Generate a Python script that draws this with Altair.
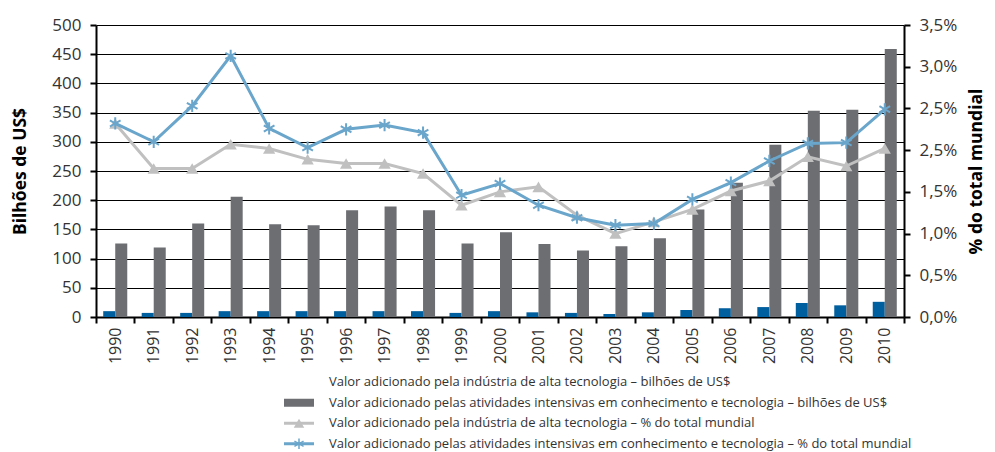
import altair as alt
import pandas as pd

years = [str(y) for y in range(1990, 2011)]
hightech_bil = [10, 7, 7, 10, 10, 10, 10, 10, 10, 7, 10, 8, 7, 5, 8, 12, 15, 17, 24, 20, 26]
knowledge_bil = [126, 119, 160, 206, 159, 157, 183, 189, 183, 126, 145, 125, 114, 121, 135, 184, 230, 295, 353, 355, 459]
hightech_pct = [2.32, 1.78, 1.78, 2.07, 2.02, 1.89, 1.84, 1.84, 1.72, 1.34, 1.50, 1.56, 1.22, 1.00, 1.14, 1.29, 1.51, 1.63, 1.92, 1.81, 2.02]
knowledge_pct = [2.32, 2.10, 2.53, 3.13, 2.26, 2.03, 2.25, 2.30, 2.21, 1.46, 1.60, 1.34, 1.19, 1.10, 1.12, 1.41, 1.61, 1.87, 2.08, 2.09, 2.49]

right_tick_values = [0, 0.5, 1.0, 1.5, 2.0, 2.5, 3.0, 3.5]
right_tick_labels = ["0,0%", "0,5%", "1,0%", "1,5%", "2,5%", "2,5%", "3,0%", "3,5%"]

legend_labels = [
    "Valor adicionado pela indústria de alta tecnologia – bilhões de US$",
    "Valor adicionado pelas atividades intensivas em conhecimento e tecnologia – bilhões de US$",
    "Valor adicionado pela indústria de alta tecnologia – % do total mundial",
    "Valor adicionado pelas atividades intensivas em conhecimento e tecnologia – % do total mundial",
]

C_BLUE_BAR = "#005f9e"
C_GRAY_BAR = "#6d6e72"
C_GRAY_LINE = "#c0c0c0"
C_BLUE_LINE = "#6aa5cb"
FONT = "Open Sans"
TXT = "#333333"
ASTERISK = "M0,-1L0,1M-0.87,-0.5L0.87,0.5M-0.87,0.5L0.87,-0.5"

W, H = 808, 292

bars = pd.DataFrame({
    "year": years * 2,
    "serie": ["a"] * len(years) + ["b"] * len(years),
    "value": hightech_bil + knowledge_bil,
})
lines = pd.DataFrame({"year": years, "ht": hightech_pct, "kn": knowledge_pct})

xscale = alt.Scale(paddingInner=0, paddingOuter=0)
xaxis = alt.Axis(title=None, labelAngle=-90, labelFont=FONT, labelFontSize=16,
                 labelColor=TXT, tickBand="extent", tickColor="black", tickWidth=2,
                 tickSize=6, domainColor="black", domainWidth=2, labelPadding=4,
                 grid=False)

bar_layer = alt.Chart(bars).mark_bar().encode(
    x=alt.X("year:N", scale=xscale, axis=xaxis),
    xOffset=alt.XOffset("serie:N", scale=alt.Scale(paddingOuter=0.6, paddingInner=0)),
    y=alt.Y("value:Q", scale=alt.Scale(domain=[0, 500]),
            axis=alt.Axis(title="Bilhões de US$", titleFont=FONT, titleFontSize=17.5,
                          titleFontWeight="bold", titleColor="black", titlePadding=22,
                          values=list(range(0, 501, 50)), labelFont=FONT,
                          labelFontSize=17, labelColor=TXT, labelPadding=9, grid=True,
                          gridColor="black", gridWidth=1, tickColor="black",
                          tickWidth=2, tickSize=6, domainColor="black", domainWidth=2)),
    color=alt.Color("serie:N", scale=alt.Scale(domain=["a", "b"], range=[C_BLUE_BAR, C_GRAY_BAR]),
                    legend=None),
)

yr = alt.Y("ht:Q", scale=alt.Scale(domain=[0, 3.5]),
           axis=alt.Axis(title="% do total mundial", orient="right", titleFont=FONT,
                         titleFontSize=17.5, titleFontWeight="bold", titleColor="black",
                         titleAngle=270, titlePadding=29, values=right_tick_values,
                         labelExpr="[" + ",".join('"%s"' % l for l in right_tick_labels) + "][round(datum.value*2)]",
                         labelFont=FONT, labelFontSize=17, labelColor=TXT, labelPadding=9,
                         grid=False, tickColor="black", tickWidth=2, tickSize=6,
                         domainColor="black", domainWidth=2))

ht_line = alt.Chart(lines).mark_line(color=C_GRAY_LINE, strokeWidth=3).encode(
    x=alt.X("year:N"), y=yr)
ht_pts = alt.Chart(lines).mark_point(shape="triangle-up", filled=True, color=C_GRAY_LINE,
                                     size=150, opacity=1).encode(x=alt.X("year:N"), y=alt.Y("ht:Q"))
kn_line = alt.Chart(lines).mark_line(color=C_BLUE_LINE, strokeWidth=3).encode(
    x=alt.X("year:N"), y=alt.Y("kn:Q"))
kn_pts = alt.Chart(lines).mark_point(shape=ASTERISK, filled=False, color=C_BLUE_LINE,
                                     size=150, strokeWidth=2, opacity=1).encode(
    x=alt.X("year:N"), y=alt.Y("kn:Q"))

pct_layer = alt.layer(ht_line, ht_pts, kn_line, kn_pts)

main = alt.layer(bar_layer, pct_layer).resolve_scale(y="independent").properties(
    width=W, height=H)

# custom legend
leg = pd.DataFrame({"label": legend_labels, "kind": ["none", "bar", "tri", "star"]})
ly = alt.Y("label:N", sort=legend_labels, axis=None,
           scale=alt.Scale(paddingInner=0, paddingOuter=0))
SW_X0, SW_X1, TX = 188, 218, 233
leg_text = alt.Chart(leg).mark_text(align="left", baseline="middle", font=FONT,
                                    fontSize=13, color=TXT).encode(
    x=alt.value(TX), y=ly, text="label:N")
leg_bar = alt.Chart(leg).transform_filter("datum.kind == 'bar'").mark_rule(
    color=C_GRAY_BAR, strokeWidth=8).encode(x=alt.value(SW_X0), x2=alt.value(SW_X1), y=ly)
leg_tri_line = alt.Chart(leg).transform_filter("datum.kind == 'tri'").mark_rule(
    color=C_GRAY_LINE, strokeWidth=3).encode(x=alt.value(SW_X0), x2=alt.value(SW_X1), y=ly)
leg_tri = alt.Chart(leg).transform_filter("datum.kind == 'tri'").mark_point(
    shape="triangle-up", filled=True, color=C_GRAY_LINE, size=110, opacity=1).encode(
    x=alt.value((SW_X0 + SW_X1) / 2), y=ly)
leg_star_line = alt.Chart(leg).transform_filter("datum.kind == 'star'").mark_rule(
    color=C_BLUE_LINE, strokeWidth=3).encode(x=alt.value(SW_X0), x2=alt.value(SW_X1), y=ly)
leg_star = alt.Chart(leg).transform_filter("datum.kind == 'star'").mark_point(
    shape=ASTERISK, filled=False, color=C_BLUE_LINE, size=110, strokeWidth=1.5, opacity=1).encode(
    x=alt.value((SW_X0 + SW_X1) / 2), y=ly)

legend = alt.layer(leg_bar, leg_tri_line, leg_tri, leg_star_line, leg_star, leg_text).properties(
    width=W, height=82)

chart = alt.vconcat(main, legend, spacing=8).properties(
    padding={"top": 8, "left": 3, "right": 0, "bottom": 0}
).configure_view(stroke=None).configure_concat(spacing=8)

chart.save("out.html", embed_options={"renderer": "svg", "actions": False})
